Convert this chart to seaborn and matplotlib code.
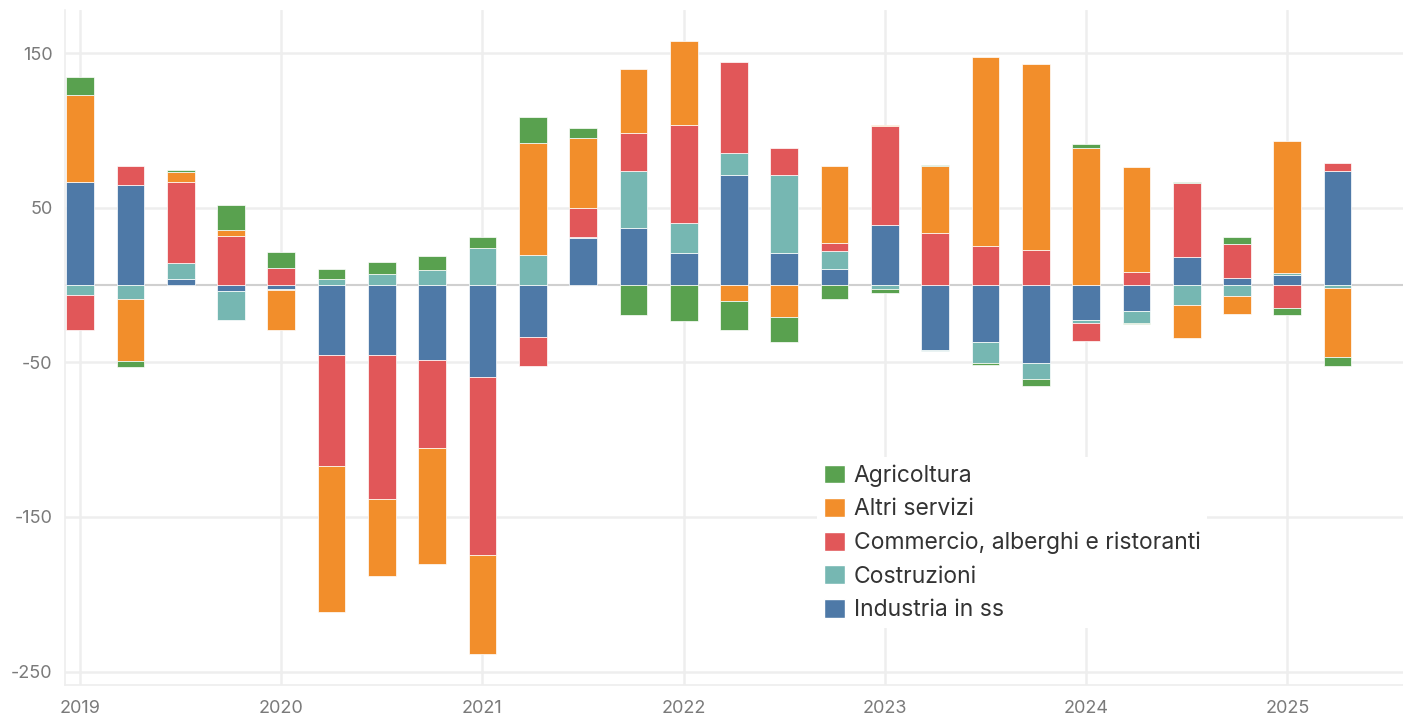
import matplotlib
matplotlib.use("Agg")
import matplotlib.pyplot as plt
import seaborn as sns
from matplotlib.patches import Patch

# trimestri 2019-T1 ... 2025-T2
trimestri = ["2019-T1", "2019-T2", "2019-T3", "2019-T4",
             "2020-T1", "2020-T2", "2020-T3", "2020-T4",
             "2021-T1", "2021-T2", "2021-T3", "2021-T4",
             "2022-T1", "2022-T2", "2022-T3", "2022-T4",
             "2023-T1", "2023-T2", "2023-T3", "2023-T4",
             "2024-T1", "2024-T2", "2024-T3", "2024-T4",
             "2025-T1", "2025-T2"]
anni = ["2019", "2020", "2021", "2022", "2023", "2024", "2025"]

industria = [66.7, 64.7, 3.9, -3.7,
             -2.8, -45.2, -45.5, -48.3,
             -59.5, -33.8, 30.2, 36.7,
             20.7, 71.4, 20.7, 10.4,
             38.6, -41.9, -36.5, -50.5,
             -22.4, -16.8, 17.9, 4.7,
             6.7, 74.0]
costruzioni = [-6.5, -9.1, 10.3, -18.6,
               -0.5, 3.9, 7.5, 9.5,
               24.3, 19.6, 0.9, 37.3,
               19.6, 14.0, 50.7, 11.4,
               -2.4, -0.5, -14.0, -10.3,
               -1.9, -7.6, -12.9, -7.3,
               0.9, -1.7]
commercio = [-22.4, 12.3, 52.5, 32.1,
             11.4, -72.0, -92.7, -57.0,
             -115.2, -18.6, 18.7, 24.6,
             63.0, 59.2, 17.1, 5.6,
             64.1, 33.9, 25.5, 22.7,
             -12.1, 8.6, 47.9, 21.6,
             -14.9, 5.0]
altri_servizi = [56.3, -39.7, 6.6, 3.7,
                 -25.6, -94.4, -50.3, -74.8,
                 -64.1, 72.3, 45.1, 41.2,
                 54.4, -10.1, -20.5, 49.6,
                 0.6, 42.9, 121.9, 120.1,
                 88.5, 67.8, -21.6, -11.2,
                 85.4, -45.1]
agricoltura = [11.4, -4.3, 1.1, 16.0,
               10.3, 6.4, 7.6, 9.3,
               6.7, 17.0, 6.5, -19.4,
               -23.1, -18.8, -16.0, -9.1,
               -2.8, 1.1, -0.9, -4.3,
               2.8, -0.9, 0.9, 4.7,
               -4.5, -5.4]

# ordine legenda (dall'alto) e colori
settori = ["Agricoltura", "Altri servizi", "Commercio, alberghi e ristoranti",
           "Costruzioni", "Industria in ss"]
valori = [agricoltura, altri_servizi, commercio, costruzioni, industria]
colori = ["#59A14F", "#F28E2B", "#E15759", "#76B7B2", "#4E79A7"]

sns.set_theme(style="white")
plt.rcParams["font.family"] = ["Inter", "DejaVu Sans"]
plt.rcParams["axes.unicode_minus"] = False

W, H = 1403, 718
fig = plt.figure(figsize=(W / 100, H / 100), dpi=100)
ax = fig.add_axes([65 / W, 1 - 685 / H, 1 - 65 / W, (685 - 10) / H])

x = list(range(len(trimestri)))
pos_base = [0.0] * len(x)
neg_base = [0.0] * len(x)
# impilamento dal basso: industria, costruzioni, commercio, altri servizi, agricoltura
for nome, serie, col in reversed(list(zip(settori, valori, colori))):
    bottoms = [pos_base[i] if v >= 0 else neg_base[i] for i, v in enumerate(serie)]
    ax.bar(x, serie, bottom=bottoms, width=0.55, color=col,
           edgecolor="white", linewidth=0.5, zorder=3)
    for i, v in enumerate(serie):
        if v >= 0:
            pos_base[i] += v
        else:
            neg_base[i] += v

ax.axhline(0, color="#d0d0d0", lw=1.5, zorder=2)

ax.set_xlim(-0.3, 26.3)
ax.set_ylim(-258.7, 178)
ax.set_yticks([150, 50, -50, -150, -250])
ax.set_xticks(range(0, 26, 4))
ax.set_xticklabels(anni)
ax.set_xticks(x, minor=True)
ax.grid(True, which="major", color="#eeeeee", lw=1.8, zorder=0)

for s in ["top", "right"]:
    ax.spines[s].set_visible(False)
for s in ["left", "bottom"]:
    ax.spines[s].set_color("#eeeeee")
    ax.spines[s].set_linewidth(1.2)

ax.tick_params(axis="y", length=0, pad=9, labelsize=13, labelcolor="#7a7a7a")
ax.tick_params(axis="x", which="both", length=6, color="#e6e6e6",
               labelsize=13, labelcolor="#7a7a7a", pad=5)

handles = [Patch(facecolor=c, edgecolor="white") for c in colori]
leg = ax.legend(handles, settori, loc="upper left",
                bbox_to_anchor=(806 / W, 1 - 446 / H), bbox_transform=fig.transFigure,
                frameon=True, facecolor="white", edgecolor="none", framealpha=1,
                fontsize=16.5, handlelength=0.88, handleheight=0.88,
                handletextpad=0.4, labelspacing=0.49, borderpad=0.3)
for t in leg.get_texts():
    t.set_color("#333333")

fig.savefig("out.png", dpi=100)
